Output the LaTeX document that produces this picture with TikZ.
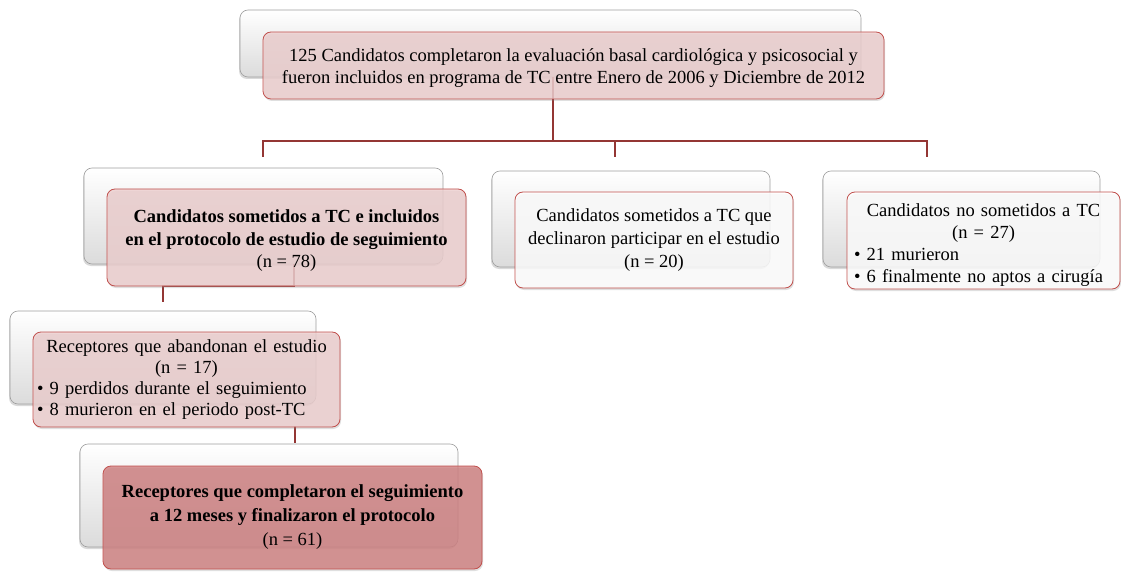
\documentclass[tikz,border=0pt]{standalone}
\usepackage{fontspec}
\setmainfont{Liberation Serif}
\usetikzlibrary{shadows}
\definecolor{connR}{HTML}{943634}
\definecolor{frameR}{HTML}{C0504D}
\definecolor{topF}{HTML}{EDCFCF}
\definecolor{finF}{HTML}{CF8081}
\newcommand\topstrut[1]{\rule{0pt}{#1}}
\begin{document}
\begin{tikzpicture}[x=1pt,y=-1pt,
  bx/.style n args={4}{at={({(#1+#3)/2},{(#2+#4)/2})}, minimum width={(#3-#1)*1pt}, minimum height={(#4-#2)*1pt}, inner sep=0pt, rounded corners=8pt},
  back/.style={draw=black!38, line width=0.6pt, top color=white, bottom color=black!14, drop shadow={opacity=0.3, shadow xshift=-1pt, shadow yshift=-2pt}},
  front/.style={draw=frameR, line width=0.8pt, fill=#1, fill opacity=0.82, text opacity=1, drop shadow={opacity=0.25, shadow xshift=1pt, shadow yshift=-2pt}, align=center, font=\fontsize{18.5}{22.8}\selectfont},
  conn/.style={draw=connR, line width=2.6pt, line join=miter}
]
\useasboundingbox (0,0) rectangle (1121,572);

% connector points
\coordinate (j0) at (553,141);
\coordinate (dA) at (263,157);
\coordinate (dB) at (615,157);
\coordinate (dC) at (927,157);
\coordinate (k0) at (294,286);
\coordinate (dR) at (163,302);
\coordinate (m0) at (295,443);

% back boxes
\node[bx={240}{10}{861}{77}, back] (topb) {};
\node[bx={84}{168}{443}{264}, back] (lb) {};
\node[bx={492}{171}{770}{267}, back] (mb) {};
\node[bx={823}{171}{1100}{267}, back] (rb) {};
\node[bx={10}{311}{316}{404}, back] (recb) {};
\node[bx={80}{444}{458}{547}, back] (finb) {};

% connectors
\draw[conn] (topb.south -| j0) -- (j0);
\draw[conn] (dA) |- (j0) -| (dC);
\draw[conn] (dB) -- (dB |- j0);
\draw[conn] (lb.south -| k0) -- (k0) -| (dR);
\draw[conn] (recb.south -| m0) ++(0,22) -- (m0);

% front boxes
\node[bx={263}{32}{884}{99}, front=topF] (top) {\topstrut{18pt}125 Candidatos completaron la evaluación basal cardiológica y psicosocial y\\fueron incluidos en programa de TC entre Enero de 2006 y Diciembre de 2012};
\node[bx={107}{189}{466}{286}, front=topF] (lf) {\topstrut{19pt}\textbf{Candidatos sometidos a TC e incluidos}\\\textbf{en el protocolo de estudio de seguimiento}\\(n = 78)};
\node[bx={515}{192}{793}{288}, front=white] (mf) {Candidatos sometidos a TC que\\declinaron participar en el estudio\\(n = 20)};
\node[bx={847}{192}{1120}{289}, front=white, text width=259pt, font=\fontsize{18.5}{22}\selectfont] (rf) {\topstrut{21pt}Candidatos no sometidos a TC\\(n = 27)\\\makebox[\linewidth][l]{• 21 murieron}\\\makebox[\linewidth][l]{• 6 finalmente no aptos a cirugía}};
\node[bx={33}{332}{340}{427}, front=topF, text width=299pt, font=\fontsize{18.5}{20.8}\selectfont] (recf) {Receptores que abandonan el estudio\\(n = 17)\\\makebox[\linewidth][l]{• 9 perdidos durante el seguimiento}\\\makebox[\linewidth][l]{• 8 murieron en el periodo post-TC}};
\node[bx={103}{466}{482}{569}, front=finF, font=\fontsize{18.5}{24}\selectfont] (finf) {\textbf{Receptores que completaron el seguimiento}\\\textbf{a 12 meses y finalizaron el protocolo}\\(n = 61)};
\end{tikzpicture}
\end{document}
